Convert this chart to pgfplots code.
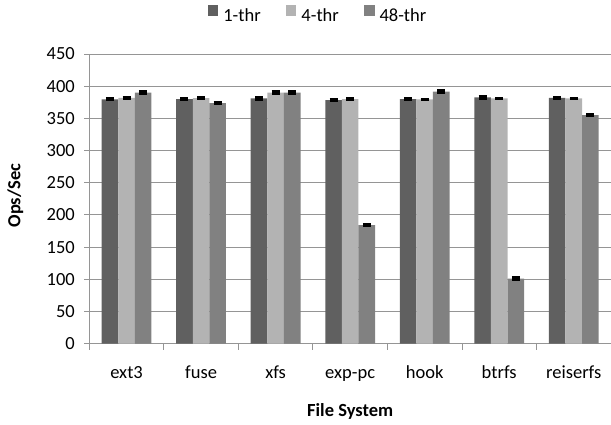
\documentclass[border=0pt]{standalone}
\usepackage{pgfplots}
\pgfplotsset{compat=1.18}
\usepackage{fontspec}
\setmainfont{Carlito}
\definecolor{cA}{HTML}{606060}
\definecolor{cB}{HTML}{B3B3B3}
\definecolor{cC}{HTML}{818181}
\definecolor{gridc}{HTML}{959595}
\newcommand{\lgap}{\rule{0pt}{0pt}\kern3pt}
\newcommand{\rgap}{\rule{23pt}{0pt}}
\begin{document}
\begin{tikzpicture}
\begin{axis}[
  scale only axis,
  width=521.7pt, height=289.6pt,
  ymin=0, ymax=450, ytick={0,50,...,450},
  xmin=-0.5, xmax=6.5,
  xtick={0,...,6},
  xticklabels={ext3,fuse,xfs,exp-pc,hook,btrfs,reiserfs},
  minor xtick={-0.5,0.5,...,6.5},
  major x tick style={draw=none},
  minor x tick style={gridc, line width=0.8pt},
  minor tick length=6pt,
  major tick length=5pt,
  tick align=outside,
  y tick style={gridc, line width=0.8pt},
  ymajorgrids,
  grid style={gridc, line width=0.8pt},
  axis x line*=bottom, axis y line*=left,
  axis line style={gridc, line width=0.8pt, -},
  ybar=0pt, bar width=16.6pt,
  font=\fontsize{18.5}{22}\selectfont,
  tick label style={font=\fontsize{18.5}{22}\selectfont},
  /pgf/number format/assume math mode=true,
  xticklabel style={anchor=base, yshift=-30pt},
  yticklabel style={xshift=-6pt},
  ylabel={\textbf{Ops/Sec}},
  ylabel style={at={(axis description cs:-0.1319,0.5107)}, anchor=base, font=\fontsize{18.5}{22}\selectfont},
  xlabel={\textbf{File System}},
  xlabel style={at={(axis description cs:0.5,-0.2524)}, anchor=base, font=\fontsize{18.5}{22}\selectfont},
  legend columns=-1,
  legend style={draw=none, at={(axis description cs:0.4384,1.1347)}, anchor=center,
    font=\fontsize{18.5}{22}\selectfont},
  legend image code/.code={\fill[#1] (0pt,0.3pt) rectangle (10.7pt,11pt);},
  error bars/y dir=both, error bars/y explicit,
  error bars/error bar style={black, line width=1.2pt},
  error bars/error mark options={black, line width=2.4pt, mark size=4pt, rotate=90},
]
\addplot[fill=cA, draw=none] coordinates {
 (0,379.6) +- (0,1.5)
 (1,380) +- (0,1.5)
 (2,381) +- (0,1.5)
 (3,378.5) +- (0,1.5)
 (4,380) +- (0,1.5)
 (5,382.5) +- (0,1.5)
 (6,382) +- (0,1.5)};
\addplot[fill=cB, draw=none] coordinates {
 (0,382) +- (0,1.5)
 (1,381.5) +- (0,1.5)
 (2,390) +- (0,1.5)
 (3,380) +- (0,1.5)
 (4,379.5) +- (0,1)
 (5,381) +- (0,1)
 (6,381) +- (0,1)};
\addplot[fill=cC, draw=none] coordinates {
 (0,390) +- (0,1.5)
 (1,373.5) +- (0,1.5)
 (2,390) +- (0,1.5)
 (3,184) +- (0,1.5)
 (4,391.5) +- (0,1.5)
 (5,101) +- (0,1.5)
 (6,355) +- (0,1.5)};
\legend{\lgap 1-thr\rgap,\lgap 4-thr\rgap,\lgap 48-thr}
\coordinate (bl) at (rel axis cs:0,0);
\end{axis}
\pgfresetboundingbox
\path (bl) ++(-89.3pt,-80.4pt) rectangle ++(611pt,424pt);
\end{tikzpicture}
\end{document}
